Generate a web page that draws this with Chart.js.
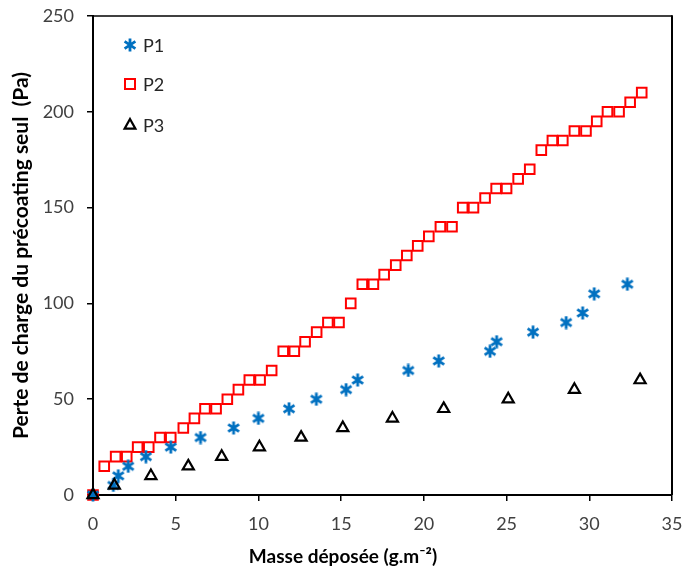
<!DOCTYPE html>
<html>
<head>
<meta charset="utf-8">
<script src="https://cdn.jsdelivr.net/npm/chart.js@4/dist/chart.umd.min.js"></script>
<style>
  html, body { margin: 0; padding: 0; background: #ffffff; }
  #wrap { width: 686px; height: 574px; position: relative; }
</style>
</head>
<body>
<div id="wrap"><canvas id="c" width="686" height="574"></canvas></div>
<script>
// ---- Data ----
const seriesNames = ["P1", "P2", "P3"];

const p1X = [0, 1.23, 1.53, 2.13, 3.2, 4.7, 6.5, 8.5, 10.0, 11.85, 13.5, 15.3, 16.0, 19.06, 20.9, 24.0, 24.4, 26.6, 28.6, 29.6, 30.3, 32.3];
const p1Y = [0, 5, 10, 15, 20, 25, 30, 35, 40, 45, 50, 55, 60, 65, 70, 75, 80, 85, 90, 95, 105, 110];

const p2X = [0, 0.68, 1.37, 2.04, 2.7, 3.37, 4.05, 4.7, 5.46, 6.13, 6.77, 7.44, 8.12, 8.79, 9.45, 10.1, 10.8, 11.5, 12.17, 12.82, 13.52, 14.2, 14.87, 15.58, 16.28, 16.95, 17.6, 18.3, 18.97, 19.63, 20.3, 21.0, 21.7, 22.35, 23.0, 23.7, 24.37, 25.0, 25.7, 26.4, 27.1, 27.77, 28.4, 29.1, 29.8, 30.45, 31.1, 31.8, 32.47, 33.17];
const p2Y = [0, 15, 20, 20, 25, 25, 30, 30, 35, 40, 45, 45, 50, 55, 60, 60, 65, 75, 75, 80, 85, 90, 90, 100, 110, 110, 115, 120, 125, 130, 135, 140, 140, 150, 150, 155, 160, 160, 165, 170, 180, 185, 185, 190, 190, 195, 200, 200, 205, 210];

const p3X = [0, 1.29, 3.5, 5.76, 7.78, 10.06, 12.58, 15.1, 18.1, 21.2, 25.1, 29.1, 33.07];
const p3Y = [0, 5, 10, 15, 20, 25, 30, 35, 40, 45, 50, 55, 60];

const xTitle = "Masse déposée (g.m⁻²)";
const yTitle = "Perte de charge du précoating seul  (Pa)";

// ---- Helpers ----
function pairs(xs, ys) { return xs.map((x, i) => ({ x: x, y: ys[i] })); }

function makeAsterisk(color) {
  const c = document.createElement('canvas');
  c.width = 14; c.height = 14;
  const g = c.getContext('2d');
  g.strokeStyle = color;
  g.lineWidth = 2.8;
  g.beginPath();
  g.moveTo(7, 0.5); g.lineTo(7, 13.5);
  g.moveTo(1.6, 3.4); g.lineTo(12.4, 10.6);
  g.moveTo(12.4, 3.4); g.lineTo(1.6, 10.6);
  g.stroke();
  return c;
}

const BLUE = '#0070C0', RED = '#FF0000', BLACK = '#000000';
const starImg = makeAsterisk(BLUE);
const FONT = 'Lato, "Liberation Sans", sans-serif';

const boxPlugin = {
  id: 'box',
  beforeDatasetsDraw(chart) {
    const a = chart.chartArea, ctx = chart.ctx;
    ctx.save();
    ctx.strokeStyle = '#000';
    ctx.lineWidth = 1.5;
    ctx.beginPath();
    ctx.moveTo(a.left, a.top); ctx.lineTo(a.right, a.top);
    ctx.stroke();
    ctx.lineWidth = 2;
    ctx.beginPath();
    ctx.moveTo(a.right, a.top - 0.75); ctx.lineTo(a.right, a.bottom);
    ctx.stroke();
    ctx.restore();
  }
};

const legendPlugin = {
  id: 'innerLegend',
  afterDraw(chart) {
    const ctx = chart.ctx;
    const mx = 130, tx = 143;
    const ys = [45, 84, 125];
    ctx.save();
    // P1
    ctx.drawImage(starImg, mx - 7, ys[0] - 7);
    // P2
    ctx.strokeStyle = RED; ctx.lineWidth = 2;
    ctx.strokeRect(mx - 5, ys[1] - 5, 10, 10);
    // P3
    ctx.strokeStyle = BLACK; ctx.lineWidth = 2.2;
    ctx.beginPath();
    ctx.moveTo(mx, ys[2] - 6);
    ctx.lineTo(mx + 5.4, ys[2] + 3.6);
    ctx.lineTo(mx - 5.4, ys[2] + 3.6);
    ctx.closePath();
    ctx.stroke();
    ctx.fillStyle = '#262626';
    ctx.font = '18px ' + FONT;
    ctx.textBaseline = 'middle';
    ctx.textAlign = 'left';
    seriesNames.forEach((n, i) => ctx.fillText(n, tx, ys[i] + 1));
    // x axis title
    ctx.font = 'bold 19px ' + FONT;
    ctx.fillStyle = '#000';
    ctx.textAlign = 'center';
    ctx.fillText(xTitle, 343, 557);
    ctx.restore();
  }
};

new Chart(document.getElementById('c'), {
  type: 'scatter',
  data: {
    datasets: [
      {
        label: seriesNames[0], data: pairs(p1X, p1Y),
        pointStyle: starImg, pointRadius: 7, order: 2, clip: false,
        borderColor: BLUE, backgroundColor: BLUE
      },
      {
        label: seriesNames[1], data: pairs(p2X, p2Y),
        pointStyle: 'rect', pointRadius: 6.8, pointBorderWidth: 2, order: 3, clip: false,
        borderColor: RED, backgroundColor: 'rgba(0,0,0,0)'
      },
      {
        label: seriesNames[2], data: pairs(p3X, p3Y),
        pointStyle: 'triangle', pointRadius: 6.4, pointBorderWidth: 2.2, order: 1, clip: false,
        borderColor: BLACK, backgroundColor: 'rgba(0,0,0,0)'
      }
    ]
  },
  options: {
    responsive: false,
    animation: false,
    events: [],
    layout: { padding: { left: 0, right: 14, top: 16, bottom: 0 } },
    plugins: { legend: { display: false }, tooltip: { enabled: false } },
    scales: {
      x: {
        type: 'linear', min: 0, max: 35,
        ticks: { stepSize: 5, color: '#404040', font: { size: 18, family: FONT }, padding: 12, maxRotation: 0 },
        grid: { display: true, drawOnChartArea: false, drawTicks: true, tickLength: 6, color: '#000', lineWidth: 1.5 },
        border: { display: true, color: '#000', width: 2 },
        afterFit(s) { s.height = 79; s.paddingLeft = 0; s.paddingRight = 0; }
      },
      y: {
        type: 'linear', min: 0, max: 250,
        ticks: { stepSize: 50, color: '#404040', font: { size: 18, family: FONT }, padding: 13 },
        grid: { display: true, drawOnChartArea: false, drawTicks: true, tickLength: 6, color: '#000', lineWidth: 1.5 },
        border: { display: true, color: '#000', width: 2 },
        title: { display: true, text: yTitle, color: '#000', font: { size: 21, weight: 'bold', family: FONT }, padding: { top: 9, bottom: 0 } },
        afterFit(s) { s.width = 93; s.paddingTop = 0; s.paddingBottom = 0; }
      }
    }
  },
  plugins: [boxPlugin, legendPlugin]
});
</script>
</body>
</html>
